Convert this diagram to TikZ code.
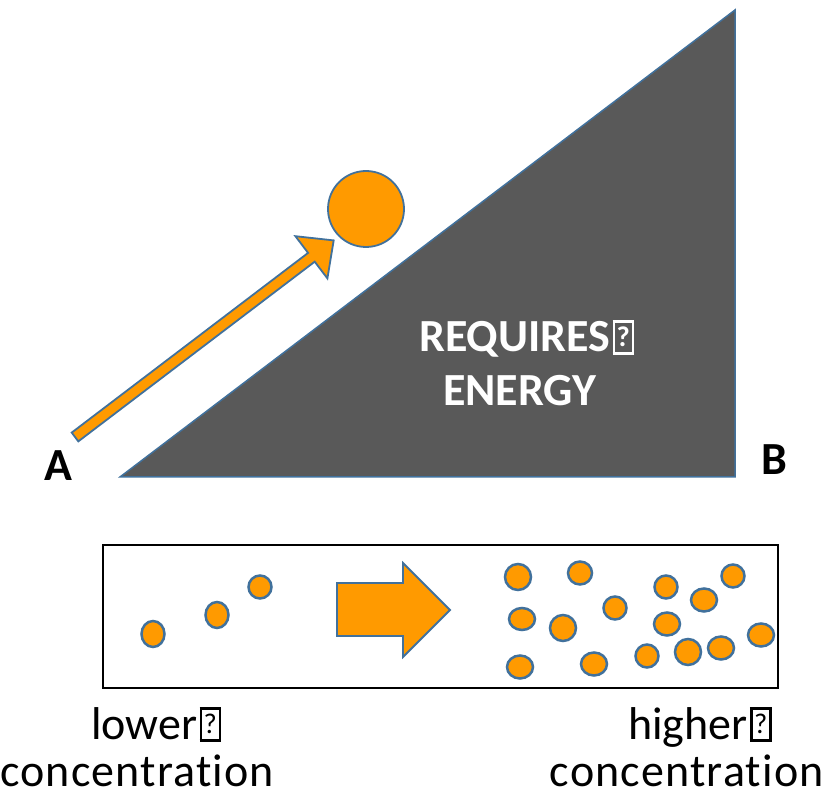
\documentclass[tikz,border=0pt]{standalone}
\usepackage{graphicx}
\usepackage{fontspec}
\setmainfont[Ligatures=NoCommon]{Carlito}
\definecolor{ballorange}{HTML}{FF9A00}
\definecolor{edgeblue}{HTML}{41719C}
\definecolor{hillgray}{HTML}{595959}
\newcommand\tofubox{\kern0.05em{\setlength\fboxsep{0pt}\setlength\fboxrule{0.055em}\fbox{\makebox[0.36em]{\rule{0pt}{0.63em}\raisebox{0.13em}{\scalebox{0.62}{?}}}}}}
\tikzset{
  lbl/.style={inner sep=0pt, anchor=base west, text depth=0pt, font=\fontsize{46}{50}\selectfont},
  blbl/.style={lbl, font=\fontsize{46}{50}\selectfont\bfseries},
  wide/.style={font=\fontsize{46}{50}\selectfont\addfontfeature{LetterSpace=2.5}},
  hill/.style={fill=hillgray, draw=edgeblue, line width=1.5pt, line join=miter},
  orangeshape/.style={fill=ballorange, draw=edgeblue, line width=1.8pt, line join=miter},
  dot/.style={fill=ballorange, draw=edgeblue, line width=2.5pt},
}
\begin{document}
\begin{tikzpicture}[x=1pt,y=-1pt]
\useasboundingbox (0,0) rectangle (825,799);
% hill
\coordinate (hA) at (120,477);
\coordinate (hTop) at (735,10);
\coordinate (hB) at (735,477);
\draw[hill] (hA) -- (hTop) -- (hB) -- cycle;
% ball
\node[orangeshape, circle, minimum size=76pt, inner sep=0pt] (ball) at (366,209) {};
% arrow up the slope
\draw[orangeshape] (78.3,441.4) -- (314.7,261.7) -- (327.4,278.4) -- (333.7,240.4)
  -- (295.4,236.2) -- (308.1,252.9) -- (71.7,432.6) -- cycle;
% labels on the hill
\node[blbl, text=white] (req) at (419,352) {REQUIRES\tofubox};
\node[blbl, text=white] (ene) at (443,406) {ENERGY};
\node[blbl] (labA) at (44,481) {A};
\node[blbl] (labB) at (761,475) {B};
% box
\draw[line width=2.6pt] (103,545) rectangle (778,688);
% block arrow in box
\draw[orangeshape] (337,583) -- (403,583) -- (403,563) -- (450,610) -- (403,657)
  -- (403,636) -- (337,636) -- cycle;
% left dots
\draw[dot] (153,634) ellipse [x radius=11.5, y radius=13];
\draw[dot] (217,615) ellipse [x radius=11.5, y radius=13];
\draw[dot] (260,587) ellipse [x radius=11.5, y radius=11.5];
% right dots
\foreach \px/\py/\rx/\ry in {518/577/13/13, 580/573/12/11.5, 666/587/11.5/11.5, 733/576/11.5/11.5,
  704/600/13/11.5, 615/608/11.5/11.5, 522/619/13/11, 563/628/13/13, 667/624/13/11.5,
  761/635/13/11.5, 520/667/13/11.5, 594/664/13/11.5, 647/656/11.5/11.5, 688/652/13/13,
  721/648/13/11.5}
  \draw[dot] (\px,\py) ellipse [x radius=\rx, y radius=\ry];
% bottom labels
\node[lbl] (lowA) at (91,739) {lower\tofubox};
\node[lbl, wide] (lowB) at (0,786) {concentration};
\node[lbl] (highA) at (628,739) {higher\tofubox};
\node[lbl, wide, anchor=base east] (highB) at (824,786) {concentration};
\end{tikzpicture}
\end{document}
